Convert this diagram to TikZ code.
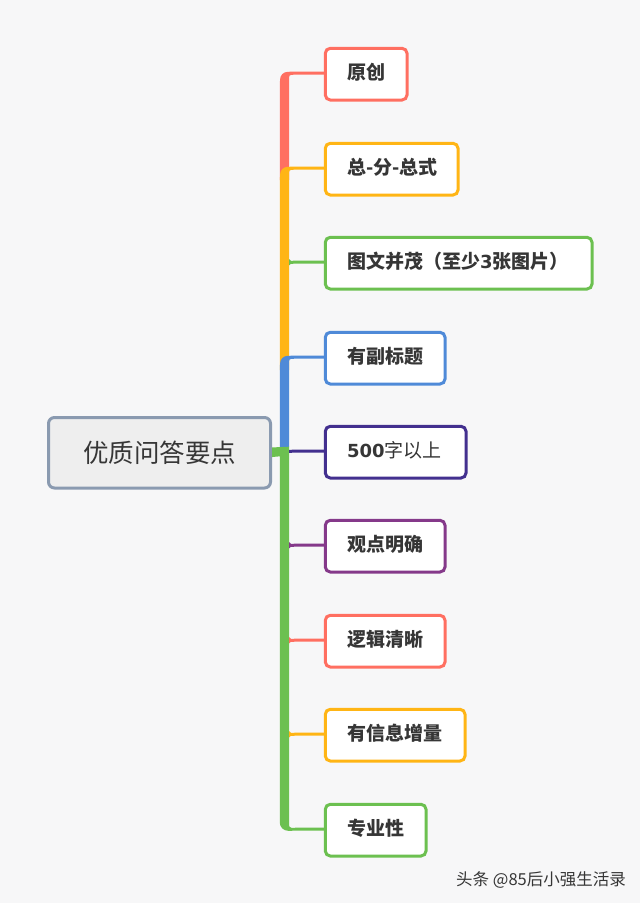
\documentclass[tikz,border=0pt]{standalone}
\usepackage{fontspec}
\usetikzlibrary{calc}
\setmainfont{Noto Sans CJK SC}
\newfontfamily\latinbold{DejaVu Sans}
\definecolor{bgc}{HTML}{F7F7F8}
\definecolor{redc}{HTML}{FF6F61}
\definecolor{yelc}{HTML}{FFB515}
\definecolor{grnc}{HTML}{6CC050}
\definecolor{bluc}{HTML}{4F8AD8}
\definecolor{navc}{HTML}{43308F}
\definecolor{purc}{HTML}{85398A}
\definecolor{rootb}{HTML}{8A9AB0}
\definecolor{rootf}{HTML}{EEEEEE}
\definecolor{txtc}{HTML}{363636}
\tikzset{
  x=1pt,y=-1pt,
  topic/.style={draw=#1,line width=3pt,fill=white,rounded corners=5pt,anchor=north west,inner sep=0pt,outer sep=1.5pt,minimum height=51.7pt,text=txtc,font=\fontsize{19pt}{20pt}\selectfont\bfseries,align=left,text height=14pt,text depth=3pt},
  rootbox/.style={draw=rootb,line width=3pt,fill=rootf,rounded corners=6pt,anchor=north west,inner sep=0pt,outer sep=1.5pt,text=txtc,font=\fontsize{25.5pt}{28pt}\selectfont,minimum width=222pt,minimum height=70.5pt},
}
\newcommand{\tnode}[5]{\node[topic=#2,minimum width=#3pt+0.7pt] (#1) at (323.8,#4-0.7) {\hspace{21.7pt}#5\hspace*{\fill}};}
\newcommand{\upbr}[5]{% node, colour, top y, bottom y, inner y
  \fill[#2] ($(#1.west)+(0,-2.5)$) -- (288,#3) arc[start angle=90,end angle=180,radius=8pt] -- (279.8,#4) -- (289,#4) -- (289,#5) arc[start angle=180,end angle=90,radius=2.5pt] -- ($(#1.west)+(0,0.5)$) -- cycle;}
\newcommand{\thinbr}[3]{% node, colour, y
  \fill[#2] ($(#1.west)+(0,-2.5)$) -- (291,#3-1.5) -- (289,#3-3.2) -- (289,#3+3.2) -- (291,#3+1.5) -- ($(#1.west)+(0,0.5)$) -- cycle;}
\begin{document}
\begin{tikzpicture}
\useasboundingbox (0,0) rectangle (640,903);
\fill[bgc] (0,0) rectangle (640,903);
\node[rootbox] (root) at (47,416) {\raisebox{1.5pt}{优质问答要点}};
\tnode{a}{redc}{81}{47.5}{\makebox[60pt][l]{原创}}
\tnode{b}{yelc}{132}{142.5}{\makebox[111pt][l]{总-分-总式}}
\tnode{c}{grnc}{266}{236.5}{\makebox[245pt][l]{图文并茂（至少{\latinbold\bfseries\fontsize{18pt}{20pt}\selectfont 3}张图片）}}
\tnode{d}{bluc}{119}{331.5}{\makebox[98pt][l]{有副标题}}
\tnode{e}{navc}{140}{425.5}{\makebox[119pt][l]{{\latinbold\bfseries\fontsize{18pt}{20pt}\selectfont 500}\mdseries 字以上}}
\tnode{f}{purc}{119}{519.5}{\makebox[98pt][l]{观点明确}}
\tnode{g}{redc}{119}{614.5}{\makebox[98pt][l]{逻辑清晰}}
\tnode{h}{yelc}{139}{708.5}{\makebox[118pt][l]{有信息增量}}
\tnode{i}{grnc}{100}{803.5}{\makebox[79pt][l]{专业性}}
% connectors
\upbr{a}{redc}{71.75}{180}{77.25}
\upbr{b}{yelc}{166.75}{370}{172.25}
\thinbr{c}{grnc}{262.25}
\upbr{d}{bluc}{355.75}{447}{361.25}
\fill[grnc] ($(root.east)+(0,-5.3)$) -- (289,446.7) -- (289,825.25) arc[start angle=180,end angle=270,radius=2.5pt] -- ($(i.west)+(0,-2.5)$) -- ($(i.west)+(0,0.5)$) -- (288,830.75) arc[start angle=270,end angle=180,radius=8.2pt] -- (279.8,456.3) -- ($(root.east)+(0,4.3)$) -- cycle;
\fill[navc] ($(e.west)+(0,-2.5)$) -- (289,449.75) -- (289,452.75) -- ($(e.west)+(0,0.5)$) -- cycle;
\thinbr{f}{purc}{545.25}
\thinbr{g}{redc}{640.25}
\thinbr{h}{yelc}{734.25}
\node[anchor=west,text=txtc,font=\fontsize{16.5pt}{18pt}\selectfont,inner sep=0pt] (w) at (456,880) {头条 @85后小强生活录};
\end{tikzpicture}
\end{document}
